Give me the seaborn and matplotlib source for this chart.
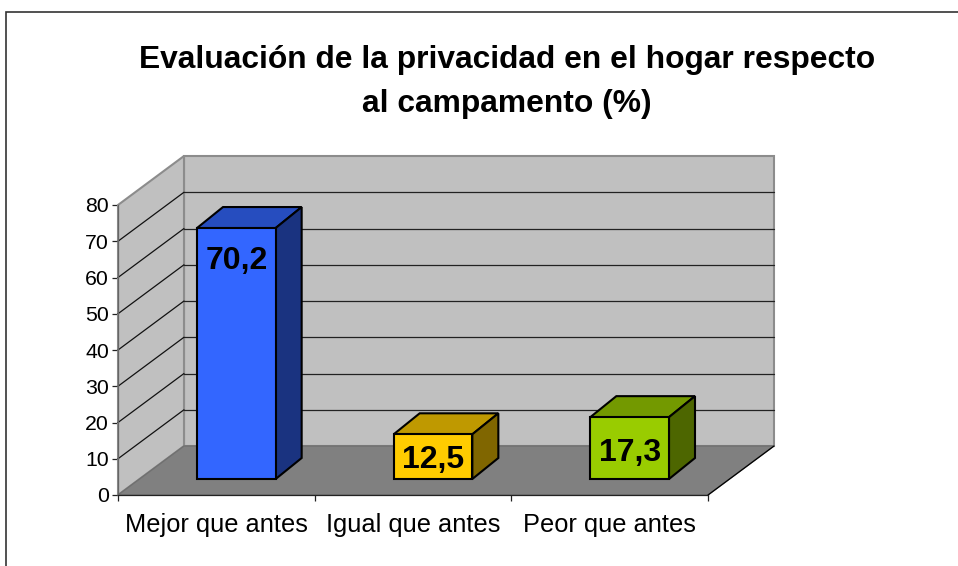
import matplotlib
matplotlib.use("Agg")
import matplotlib.pyplot as plt
import numpy as np
import pandas as pd
import seaborn as sns
from matplotlib.patches import Polygon, Rectangle
from matplotlib.transforms import Affine2D, IdentityTransform

# Values
categories = ["Mejor que antes", "Igual que antes", "Peor que antes"]
values = [70.2, 12.5, 17.3]
value_labels = ["70,2", "12,5", "17,3"]
y_ticks = [0, 10, 20, 30, 40, 50, 60, 70, 80]
title = "Evaluación de la privacidad en el hogar respecto\nal campamento (%)"

front_colors = ["#3366FF", "#FFCC00", "#99CC00"]
top_colors = ["#264DBF", "#BF9900", "#739900"]
side_colors = ["#1A3380", "#806600", "#4D6600"]

W, H = 958, 566
DEPTH_X, DEPTH_Y = 66, 49      # wall depth in pixels
BAR_X, BAR_Y = 26, 21          # bar depth in pixels
LABEL_DROP = [33, 26, 35.5]    # label distance under the bar top, pixels
PIXELS = IdentityTransform()


def px_axes(fig, left, right, top, bottom):
    # axes placed from pixel positions of the picture (y going down)
    return fig.add_axes([left / W, (H - bottom) / H, (right - left) / W, (bottom - top) / H])


sns.set_theme(style="white")
plt.rcParams["font.family"] = ["Liberation Sans", "DejaVu Sans"]

fig = plt.figure(figsize=(W / 100, H / 100), dpi=100)
fig.patch.set_facecolor("white")

# outer frame of the chart
fig.add_artist(Rectangle((6 / W, -0.1), 1.1, 0.1 + (H - 12) / H, transform=fig.transFigure,
                         fill=False, edgecolor="#333333", linewidth=1.2))

ax = px_axes(fig, 118, 708, 205, 495)
ax.set_xlim(-0.5, 2.5)
ax.set_ylim(0, 80)
ax.patch.set_alpha(0)
shift = ax.transData + Affine2D().translate(DEPTH_X, DEPTH_Y)

# back wall, side wall and floor
x0, x1 = ax.get_xlim()
ax.add_patch(Rectangle((x0, 0), x1 - x0, 80, transform=shift, facecolor="#C0C0C0",
                       edgecolor="#8C8C8C", linewidth=1.5, clip_on=False, zorder=1))
side_pts = ax.transData.transform([(x0, 0), (x0, 80)])
side_back = shift.transform([(x0, 80), (x0, 0)])
ax.add_patch(Polygon(np.vstack([side_pts, side_back]), closed=True, transform=PIXELS, clip_on=False,
                     facecolor="#C0C0C0", edgecolor="#8C8C8C", linewidth=1.5, zorder=1))
floor_front = ax.transData.transform([(x0, 0), (x1, 0)])
floor_back = shift.transform([(x1, 0), (x0, 0)])
ax.add_patch(Polygon(np.vstack([floor_front, floor_back]), closed=True, transform=PIXELS, clip_on=False,
                     facecolor="#808080", edgecolor="#707070", linewidth=1, zorder=2))
ax.plot([floor_front[1][0], floor_back[0][0]], [floor_front[1][1], floor_back[0][1]],
        transform=PIXELS, clip_on=False, color="black", linewidth=0.9, zorder=2)

# gridlines run across the back wall and down the side wall
for t in y_ticks[1:-1]:
    ax.plot([x0, x1], [t, t], transform=shift, color="#222222", linewidth=0.9, clip_on=False, zorder=1.5)
    a = ax.transData.transform((x0, t))
    b = shift.transform((x0, t))
    ax.plot([a[0], b[0]], [a[1], b[1]], transform=PIXELS, clip_on=False, color="#111111",
            linewidth=0.9, zorder=1.5)

# axes lines and ticks
ax.set_xticks([-0.5, 0.5, 1.5, 2.5])
ax.set_xticklabels([])
ax.set_yticks(y_ticks)
ax.tick_params(axis="both", length=4.5, width=0.9, color="#222222", left=True, bottom=True, pad=3)
ax.tick_params(axis="y", labelsize=15.3, labelcolor="black", pad=2)
for s in ["top", "right"]:
    ax.spines[s].set_visible(False)
for s in ["left", "bottom"]:
    ax.spines[s].set_color("#222222")
    ax.spines[s].set_linewidth(0.9)
    ax.spines[s].set_zorder(3)
ax.spines["left"].set_color("#666666")
for i, c in enumerate(categories):
    ax.text(i, -8.2, c, ha="center", va="center", fontsize=18.3, color="black")

fig.text(507 / W, 1 - 82 / H, title, ha="center", va="center", fontsize=22.9, fontweight="bold",
         color="black", linespacing=1.64)

# bars sit part way into the floor, in their own axes
bar_ax = px_axes(fig, 138, 728, 193, 479)
df = pd.DataFrame({"categoria": categories, "valor": values})
sns.barplot(data=df, x="categoria", y="valor", hue="categoria", palette=front_colors, legend=False,
            width=0.4, edgecolor="black", linewidth=1.5, saturation=1, ax=bar_ax, zorder=5)
bar_ax.set_xlim(-0.5, 2.5)
bar_ax.set_ylim(0, 80)
bar_ax.axis("off")

for i, (bar, label) in enumerate(zip(bar_ax.patches, value_labels)):
    bar.set_clip_on(False)
    bx0, bx1 = bar.get_x(), bar.get_x() + bar.get_width()
    h = bar.get_height()
    fl, fr = bar_ax.transData.transform([(bx0, h), (bx1, h)])
    br = bar_ax.transData.transform((bx1, 0))
    d = np.array([BAR_X, BAR_Y])
    bar_ax.add_patch(Polygon([fl, fr, fr + d, fl + d], closed=True, transform=PIXELS, clip_on=False,
                             facecolor=top_colors[i], edgecolor="black", linewidth=1.5, zorder=4))
    bar_ax.add_patch(Polygon([fr, br, br + d, fr + d], closed=True, transform=PIXELS, clip_on=False,
                             facecolor=side_colors[i], edgecolor="black", linewidth=1.5, zorder=4))
    # label hangs just under the bar top
    bar_ax.annotate(label, xy=((bx0 + bx1) / 2, h), xytext=(0, -LABEL_DROP[i]),
                    textcoords="offset pixels", ha="center", va="center", fontsize=23,
                    fontweight="bold", color="black", zorder=6)

fig.savefig("out.png", dpi=100)
